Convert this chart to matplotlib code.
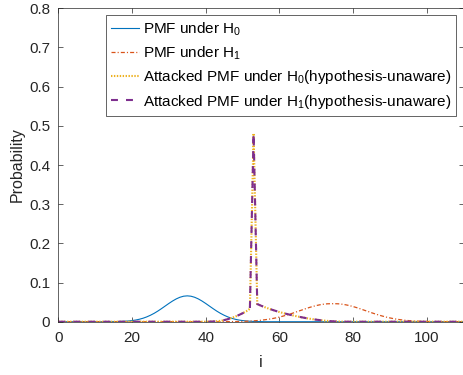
import numpy as np
import matplotlib
matplotlib.use("Agg")
from matplotlib import pyplot as plt
from matplotlib.ticker import FormatStrFormatter

plt.rcParams['font.family'] = ['Liberation Sans', 'DejaVu Sans']
plt.rcParams['mathtext.fontset'] = 'custom'
plt.rcParams['mathtext.rm'] = 'Liberation Sans'
plt.rcParams['lines.scale_dashes'] = False

# index axis
i = np.arange(0, 111)

# PMF under H0, nonzero part for i = 15..55
h0_start = 15
h0_vals = [0.0003, 0.0004, 0.0007, 0.0012, 0.0019, 0.0029, 0.0043, 0.0063, 0.0089, 0.0123,
           0.0165, 0.0214, 0.0271, 0.0334, 0.0400, 0.0466, 0.0528, 0.0582, 0.0624, 0.0651,
           0.0660,
           0.0651, 0.0624, 0.0582, 0.0528, 0.0466, 0.0400, 0.0334, 0.0271, 0.0214, 0.0165,
           0.0123, 0.0089, 0.0063, 0.0043, 0.0029, 0.0019, 0.0012, 0.0007, 0.0004, 0.0003]

# PMF under H1, nonzero part for i = 45..105
h1_start = 45
h1_vals = [0.0001, 0.0002, 0.0003, 0.0004, 0.0006, 0.0009, 0.0012, 0.0016, 0.0022, 0.0029,
           0.0038, 0.0049, 0.0062, 0.0078, 0.0097, 0.0118, 0.0143, 0.0170, 0.0199, 0.0230,
           0.0263, 0.0295, 0.0328, 0.0359, 0.0387, 0.0412, 0.0432, 0.0447, 0.0457, 0.0460,
           0.0460,
           0.0457, 0.0447, 0.0432, 0.0412, 0.0387, 0.0359, 0.0328, 0.0295, 0.0263, 0.0230,
           0.0199, 0.0170, 0.0143, 0.0118, 0.0097, 0.0078, 0.0062, 0.0049, 0.0038, 0.0029,
           0.0022, 0.0016, 0.0012, 0.0009, 0.0006, 0.0004, 0.0003, 0.0002, 0.0001, 0.0001]

# attacked PMFs (hypothesis-unaware), nonzero part for i = 41..77
att_start = 41
att_h0_vals = [0.0003, 0.0006, 0.0012, 0.0022, 0.0040, 0.0065, 0.0095, 0.0130, 0.0170, 0.0215,
               0.0265, 0.0330, 0.4810, 0.0450, 0.0410, 0.0372, 0.0338, 0.0306, 0.0276, 0.0248,
               0.0222, 0.0198, 0.0175, 0.0153, 0.0133, 0.0114, 0.0096, 0.0080, 0.0065, 0.0052,
               0.0040, 0.0030, 0.0021, 0.0014, 0.0008, 0.0004, 0.0002]
att_h1_vals = [0.0003, 0.0006, 0.0012, 0.0022, 0.0040, 0.0065, 0.0095, 0.0130, 0.0170, 0.0215,
               0.0265, 0.0330, 0.4810, 0.0450, 0.0410, 0.0372, 0.0338, 0.0306, 0.0276, 0.0248,
               0.0222, 0.0198, 0.0175, 0.0153, 0.0133, 0.0114, 0.0096, 0.0080, 0.0065, 0.0052,
               0.0040, 0.0030, 0.0021, 0.0014, 0.0008, 0.0004, 0.0002]

labels = ['PMF under H$_\\mathregular{0}$',
          'PMF under H$_\\mathregular{1}$',
          'Attacked PMF under H$_\\mathregular{0}$(hypothesis-unaware)',
          'Attacked PMF under H$_\\mathregular{1}$(hypothesis-unaware)']


def full(start, vals):
    p = np.zeros(len(i))
    p[start:start + len(vals)] = vals
    return p


fig = plt.figure(figsize=(4.63, 3.75), dpi=100)
ax = fig.add_axes([0.126, 0.1421, 0.8752, 0.8357])

ax.plot(i, full(h0_start, h0_vals), color='#0072BD', lw=0.8, label=labels[0])
ax.plot(i, full(h1_start, h1_vals), color='#D95319', lw=0.9,
        linestyle=(0, (2.9, 1.5, 0.8, 1.5)), label=labels[1])
ax.plot(i, full(att_start, att_h0_vals), color='#EDB120', lw=1.5,
        linestyle=(0, (1.0, 1.1)), label=labels[2])
ax.plot(i, full(att_start, att_h1_vals), color='#7E2F8E', lw=1.5,
        linestyle=(0, (5.0, 5.8)), label=labels[3])

ax.set_xlim(0, 110)
ax.set_ylim(0, 0.8)
ax.set_xticks(np.arange(0, 101, 20))
ax.set_yticks(np.arange(0, 0.81, 0.1))
ax.yaxis.set_major_formatter(FormatStrFormatter('%g'))
ax.tick_params(direction='in', length=3.5, width=0.5, top=True, right=True,
               labelsize=11, colors='#262626')
ax.tick_params(axis='x', pad=7)
ax.tick_params(axis='y', pad=6)
for s in ax.spines.values():
    s.set_linewidth(0.5)
    s.set_color('#262626')

ax.set_xlabel('i', fontsize=11.5, color='#262626', labelpad=7)
ax.set_ylabel('Probability', fontsize=11.5, color='#262626', labelpad=3)

leg = ax.legend(loc='upper right', bbox_to_anchor=(0.982, 0.979), borderaxespad=0,
                fontsize=11, fancybox=False, framealpha=1, edgecolor='#262626',
                handlelength=1.8, handletextpad=0.25, labelspacing=0.42,
                borderpad=0.33)
leg.get_frame().set_linewidth(0.5)

fig.savefig('out.png', dpi=100)
